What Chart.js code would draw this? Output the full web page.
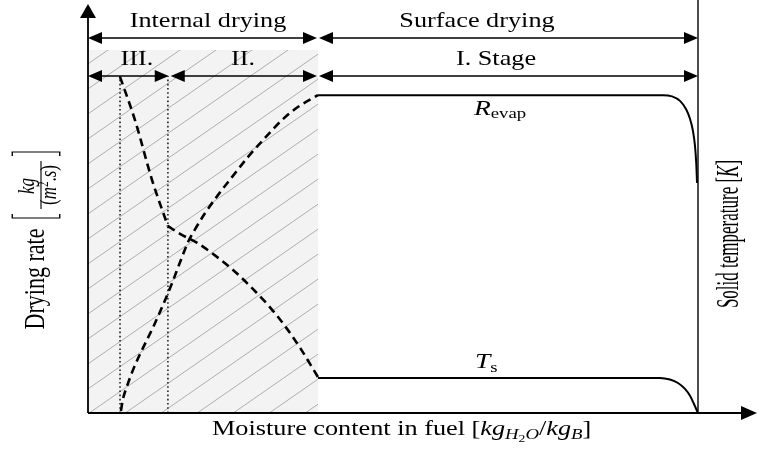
<!DOCTYPE html>
<html>
<head>
<meta charset="utf-8">
<script src="https://cdn.jsdelivr.net/npm/chart.js@4/dist/chart.umd.min.js"></script>
<style>
  html, body { margin: 0; padding: 0; background: #fff; }
  #drying { display: block; }
</style>
</head>
<body>
<canvas id="drying" width="758" height="456"></canvas>
<script>
// moisture content is normalised (0 = dry, 1 = initial), rate/temperature in relative units 0..100
const stageEdgesTop = [0, 0.377, 1];          // internal drying | surface drying
const stageEdgesSub = [0, 0.134, 0.377, 1];   // III. | II. | I. Stage
const stageDividers = [0.0525, 0.131];        // dotted lines in the internal zone
const internalZoneTop = 89;

// solid temperature during internal drying (two pieces, kink at stage III/II)
const tsStageThreeX = [0.0525, 0.077, 0.105, 0.131];
const tsStageThreeY = [82.4, 71.8, 57.1, 45.8];
const tsStageTwoX = [0.131, 0.151, 0.179, 0.203, 0.236, 0.269, 0.295, 0.323, 0.348, 0.377];
const tsStageTwoY = [45.8, 43.9, 41.7, 39.2, 35.3, 30.6, 26.5, 21.3, 15.9, 8.8];

// evaporation rate during internal drying
const rateInternalX = [0.054, 0.057, 0.064, 0.075, 0.090, 0.107, 0.123, 0.138, 0.151, 0.164, 0.175, 0.192, 0.213, 0.236, 0.262, 0.290, 0.318, 0.344, 0.377];
const rateInternalY = [0.5, 3.2, 6.6, 11.0, 15.9, 21.1, 26.5, 31.9, 37.0, 41.9, 44.9, 49.0, 53.4, 57.8, 62.7, 67.4, 71.8, 75.0, 77.9];

// surface drying (stage I)
const rateSurfaceX = [0.377, 0.9426, 0.9574, 0.9705, 0.9803, 0.9869, 0.9918, 0.9951, 0.9972, 0.9984];
const rateSurfaceY = [77.9, 77.9, 77.6, 76.5, 74.5, 72.1, 69.1, 65.4, 61.0, 56.4];
const tsSurfaceX = [0.377, 0.9377, 0.9541, 0.9672, 0.9787, 0.9869, 0.9934, 1.0];
const tsSurfaceY = [8.6, 8.6, 8.2, 7.35, 5.9, 4.2, 2.2, 0];

const serif = '"Liberation Serif", "DejaVu Serif", serif';
const stretch = 1.25;

function points(xs, ys) {
  return xs.map((x, i) => ({ x: x, y: ys[i] }));
}

function hatchPattern(ctx) {
  const w = 36, h = 25;
  const tile = document.createElement('canvas');
  tile.width = w;
  tile.height = h;
  const g = tile.getContext('2d');
  g.fillStyle = '#f3f3f3';
  g.fillRect(0, 0, w, h);
  g.strokeStyle = '#a6a6a6';
  g.lineWidth = 0.9;
  for (const k of [-1, 0, 1]) {
    g.beginPath();
    g.moveTo(k * w - w, 2 * h);
    g.lineTo(k * w + 2 * w, -h);
    g.stroke();
  }
  return ctx.createPattern(tile, 'repeat');
}

function curve(xs, ys, dashed) {
  return {
    data: points(xs, ys),
    showLine: true,
    borderColor: '#000',
    borderWidth: dashed ? 2.6 : 2,
    borderDash: dashed ? [8, 5] : [],
    borderCapStyle: 'butt',
    pointRadius: 0,
    cubicInterpolationMode: 'monotone',
    fill: false,
    order: 1
  };
}

function head(ctx, x, y, dir, len, half) {
  ctx.beginPath();
  ctx.moveTo(x, y);
  if (dir === 'r') { ctx.lineTo(x - len, y - half); ctx.lineTo(x - len, y + half); }
  if (dir === 'l') { ctx.lineTo(x + len, y - half); ctx.lineTo(x + len, y + half); }
  if (dir === 'u') { ctx.lineTo(x - half, y + len); ctx.lineTo(x + half, y + len); }
  ctx.closePath();
  ctx.fill();
}

function span(ctx, x1, x2, y) {
  ctx.beginPath();
  ctx.moveTo(x1 + 4, y);
  ctx.lineTo(x2 - 4, y);
  ctx.stroke();
  head(ctx, x1, y, 'l', 14, 6);
  head(ctx, x2, y, 'r', 14, 6);
}

// lettering is widened horizontally
function label(ctx, text, x, y, font, align) {
  ctx.save();
  ctx.translate(x, y);
  ctx.scale(stretch, 1);
  ctx.font = font;
  ctx.textAlign = align || 'left';
  ctx.textBaseline = 'alphabetic';
  ctx.fillText(text, 0, 0);
  const w = ctx.measureText(text).width * stretch;
  ctx.restore();
  return w;
}

function runs(ctx, parts, x, y) {
  let cx = x;
  parts.forEach(p => {
    cx += label(ctx, p[0], cx, y + (p[2] || 0), p[1]);
  });
}

// vertical text built from [text, font, shift] pieces, centred on (x, y)
function verticalRuns(ctx, parts, x, y, sx) {
  ctx.save();
  ctx.translate(x, y);
  ctx.scale(sx, 1);
  ctx.rotate(-Math.PI / 2);
  ctx.textAlign = 'left';
  let total = 0;
  parts.forEach(p => { ctx.font = p[1]; total += ctx.measureText(p[0]).width; });
  let cx = -total / 2;
  parts.forEach(p => {
    ctx.font = p[1];
    ctx.fillText(p[0], cx, p[2] || 0);
    cx += ctx.measureText(p[0]).width;
  });
  ctx.restore();
}

const schematic = {
  id: 'schematic',
  afterDatasetsDraw(chart) {
    const ctx = chart.ctx;
    const xs = chart.scales.x, ys = chart.scales.y;
    const left = xs.getPixelForValue(0);
    const right = xs.getPixelForValue(1);
    const bottom = ys.getPixelForValue(0);
    ctx.save();
    ctx.fillStyle = '#000';
    ctx.strokeStyle = '#000';

    // axes with arrow heads
    ctx.lineWidth = 1.8;
    ctx.beginPath();
    ctx.moveTo(left, bottom);
    ctx.lineTo(left, 12);
    ctx.moveTo(left, bottom);
    ctx.lineTo(748, bottom);
    ctx.stroke();
    head(ctx, left, 4, 'u', 14, 8);
    head(ctx, 757, bottom, 'r', 16, 7);

    // solid temperature axis
    ctx.lineWidth = 1.4;
    ctx.beginPath();
    ctx.moveTo(right, 0);
    ctx.lineTo(right, bottom);
    ctx.stroke();

    // stage spans
    ctx.lineWidth = 1.3;
    const rowTop = 38, rowSub = 76;
    for (let i = 0; i < stageEdgesTop.length - 1; i++) {
      span(ctx, xs.getPixelForValue(stageEdgesTop[i]) + (i ? 1 : 0),
        xs.getPixelForValue(stageEdgesTop[i + 1]) - (i < stageEdgesTop.length - 2 ? 1 : 0), rowTop);
    }
    for (let i = 0; i < stageEdgesSub.length - 1; i++) {
      span(ctx, xs.getPixelForValue(stageEdgesSub[i]) + (i ? 1 : 0),
        xs.getPixelForValue(stageEdgesSub[i + 1]) - (i < stageEdgesSub.length - 2 ? 1 : 0), rowSub);
    }

    const roman = '21px ' + serif;
    const italic = 'italic 22px ' + serif;
    const small = '15px ' + serif;
    const smallIt = 'italic 15px ' + serif;

    label(ctx, 'Internal drying', 208, 27, roman, 'center');
    label(ctx, 'Surface drying', 477, 27, roman, 'center');
    label(ctx, 'III.', 137, 65, roman, 'center');
    label(ctx, 'II.', 243, 65, roman, 'center');
    label(ctx, 'I. Stage', 496, 65, roman, 'center');

    runs(ctx, [['R', italic], ['evap', small, 3]], 474, 115);
    runs(ctx, [['T', italic], ['s', small, 4]], 475, 368);

    runs(ctx, [
      ['Moisture content in fuel [', roman],
      ['kg', 'italic 21px ' + serif],
      ['H', smallIt, 4],
      ['2', '11px ' + serif, 7],
      ['O', smallIt, 4],
      ['/', roman],
      ['kg', 'italic 21px ' + serif],
      ['B', smallIt, 4],
      [']', roman]
    ], 212, 435);

    // left axis title
    verticalRuns(ctx, [['Drying rate', '22px ' + serif]], 44, 279, 1.35);

    // unit fraction kg / (m^2.s) in brackets
    ctx.save();
    ctx.translate(41, 185);
    ctx.scale(stretch, 1);
    ctx.rotate(-Math.PI / 2);
    ctx.lineWidth = 0.9;
    ctx.beginPath();
    ctx.moveTo(-24, 0);
    ctx.lineTo(24, 0);
    ctx.stroke();
    ctx.lineWidth = 1.1;
    ctx.beginPath();
    ctx.moveTo(-29, -23); ctx.lineTo(-33, -23); ctx.lineTo(-33, 15); ctx.lineTo(-29, 15);
    ctx.moveTo(29, -23); ctx.lineTo(33, -23); ctx.lineTo(33, 15); ctx.lineTo(29, 15);
    ctx.stroke();
    ctx.restore();
    verticalRuns(ctx, [['kg', 'italic 17px ' + serif]], 34, 186, 1.35);
    verticalRuns(ctx, [
      ['(', '17px ' + serif], ['m', 'italic 17px ' + serif], ['2', '11px ' + serif, -6],
      ['.', '17px ' + serif], ['s', 'italic 17px ' + serif], [')', '17px ' + serif]
    ], 56, 185, 1.35);

    // right axis title
    verticalRuns(ctx, [
      ['Solid temperature [', '17px ' + serif], ['K', 'italic 17px ' + serif], [']', '17px ' + serif]
    ], 738, 234, 1.8);

    ctx.restore();
  }
};

const canvas = document.getElementById('drying');
const ctx2d = canvas.getContext('2d');

const datasets = [
  curve(tsStageThreeX, tsStageThreeY, true),
  curve(tsStageTwoX, tsStageTwoY, true),
  curve(rateInternalX, rateInternalY, true),
  curve(rateSurfaceX, rateSurfaceY, false),
  curve(tsSurfaceX, tsSurfaceY, false)
];

stageDividers.forEach(x => {
  datasets.push({
    data: points([x, x], [0, 82.6]),
    showLine: true,
    borderColor: '#222',
    borderWidth: 1.6,
    borderDash: [1.6, 2.6],
    pointRadius: 0,
    fill: false,
    order: 2
  });
});

datasets.push({
  data: points([0, stageEdgesTop[1]], [internalZoneTop, internalZoneTop]),
  showLine: true,
  borderWidth: 0,
  borderColor: 'rgba(0,0,0,0)',
  backgroundColor: hatchPattern(ctx2d),
  pointRadius: 0,
  fill: 'origin',
  order: 10
});

new Chart(canvas, {
  type: 'scatter',
  data: { datasets: datasets },
  options: {
    responsive: false,
    animation: false,
    devicePixelRatio: 1,
    layout: { padding: { left: 88, right: 60, top: 5, bottom: 43 } },
    scales: {
      x: { type: 'linear', min: 0, max: 1, display: false },
      y: { type: 'linear', min: 0, max: 100, display: false }
    },
    plugins: {
      legend: { display: false },
      tooltip: { enabled: false }
    },
    events: []
  },
  plugins: [schematic]
});
</script>
</body>
</html>
